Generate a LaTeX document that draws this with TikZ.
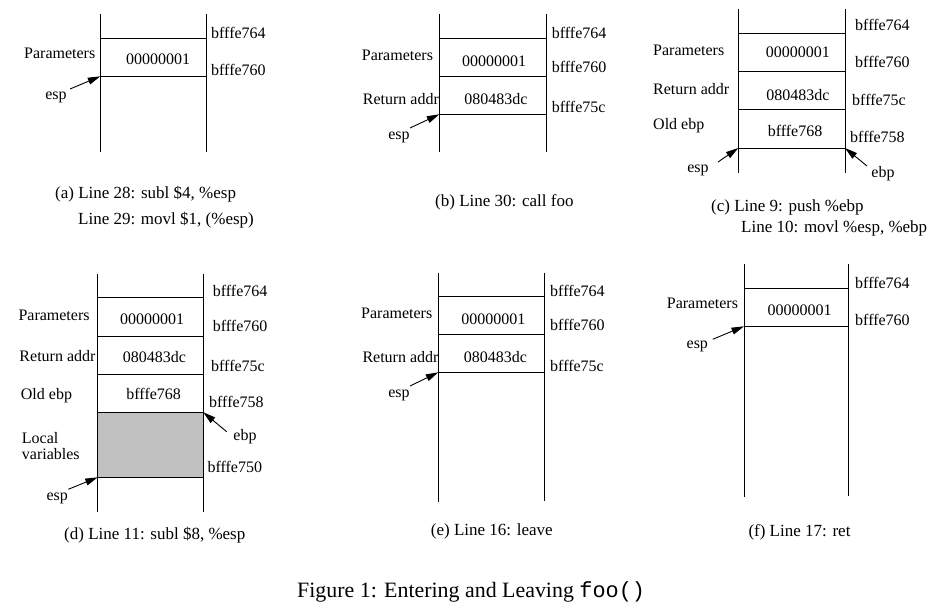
\documentclass[tikz,border=0pt]{standalone}
\usepackage{fontspec}
\setmainfont{Liberation Serif}
\setmonofont{Liberation Mono}
\usetikzlibrary{arrows.meta}
\definecolor{lvgray}{RGB}{192,192,192}
\begin{document}
\begin{tikzpicture}[x=1pt,y=-1pt,
  lbl/.style={inner sep=0pt,anchor=west,font=\fontsize{16}{16.6}\selectfont},
  val/.style={inner sep=0pt,anchor=center,font=\fontsize{16}{16.6}\selectfont},
  subcap/.style={inner sep=0pt,anchor=west,font=\fontsize{17}{20}\selectfont},
  stk/.style={line width=0.9pt},
  ptr/.style={line width=0.9pt,-{Triangle[length=12.5pt,width=7pt]}}]
\useasboundingbox[fill=white] (0,0) rectangle (941,613);

% ---------- (a) ----------
\draw[stk] (100.3,14) -- (100.3,152);
\draw[stk] (206,14) -- (206,152);
\draw[stk] (100.3,38.3) -- (206,38.3);
\draw[stk] (100.3,76.3) -- (206,76.3);
\node[lbl] (a764) at (211,33) {bfffe764};
\node[lbl] (a760) at (211,70) {bfffe760};
\node[val] (aval1) at (158,59) {00000001};
\node[lbl] (apar) at (24,53) {Parameters};
\node[val] (aesp) at (56,97) {esp};
\coordinate (aespt) at (70,89);
\coordinate (aesph) at (100.3,76.3);
\draw[ptr] (aespt) -- (aesph);
\node[subcap] (acap1) at (55,194) {(a) Line 28: subl \$4, \%esp};
\node[subcap] (acap2) at (78,220) {Line 29: movl \$1, (\%esp)};

% ---------- (b) ----------
\draw[stk] (439.3,14) -- (439.3,152);
\draw[stk] (546,14) -- (546,152);
\draw[stk] (439.3,38.3) -- (546,38.3);
\draw[stk] (439.3,76.3) -- (546,76.3);
\draw[stk] (439.3,114.3) -- (546,114.3);
\node[lbl] (b764) at (551.7,33) {bfffe764};
\node[lbl] (b760) at (551.7,67) {bfffe760};
\node[lbl] (b75c) at (551.7,107) {bfffe75c};
\node[val] (bval1) at (494,61) {00000001};
\node[val] (bval2) at (496,99) {080483dc};
\node[lbl] (bpar) at (361.7,55) {Parameters};
\node[lbl] (bret) at (362.7,99) {Return addr};
\node[val] (besp) at (399,137) {esp};
\coordinate (bespt) at (410,128);
\coordinate (besph) at (439.3,114.3);
\draw[ptr] (bespt) -- (besph);
\node[subcap] (bcap) at (435,202) {(b) Line 30: call foo};

% ---------- (c) ----------
\draw[stk] (738.3,9.3) -- (738.3,173);
\draw[stk] (845,9.3) -- (845,173);
\draw[stk] (738.3,33.3) -- (845,33.3);
\draw[stk] (738.3,71.3) -- (845,71.3);
\draw[stk] (738.3,109.7) -- (845,109.7);
\draw[stk] (738.3,148) -- (845,148);
\node[lbl] (c764) at (855,25) {bfffe764};
\node[lbl] (c760) at (855,61.7) {bfffe760};
\node[lbl] (c75c) at (852,100) {bfffe75c};
\node[lbl] (c758) at (850,136.7) {bfffe758};
\node[val] (cval1) at (797.8,52.7) {00000001};
\node[val] (cval2) at (797.8,95) {080483dc};
\node[val] (cval3) at (795,130.7) {bfffe768};
\node[lbl] (cpar) at (653,50.7) {Parameters};
\node[lbl] (cret) at (653,89) {Return addr};
\node[lbl] (cold) at (653,126) {Old ebp};
\node[val] (cesp) at (698,170) {esp};
\coordinate (cespt) at (718,162);
\coordinate (cesph) at (738.3,148);
\draw[ptr] (cespt) -- (cesph);
\node[val] (cebp) at (883,174) {ebp};
\coordinate (cebpt) at (867,166);
\coordinate (cebph) at (845,148);
\draw[ptr] (cebpt) -- (cebph);
\node[subcap] (ccap1) at (711,207) {(c) Line 9: push \%ebp};
\node[subcap] (ccap2) at (741,228) {Line 10: movl \%esp, \%ebp};

% ---------- (d) ----------
\fill[lvgray] (97.7,412.3) rectangle (203.3,477.3);
\draw[stk] (97.7,274) -- (97.7,511.7);
\draw[stk] (203.3,274) -- (203.3,511.7);
\draw[stk] (97.7,297.7) -- (203.3,297.7);
\draw[stk] (97.7,336) -- (203.3,336);
\draw[stk] (97.7,374.3) -- (203.3,374.3);
\draw[stk] (97.7,412.3) -- (203.3,412.3);
\draw[stk] (97.7,477.3) -- (203.3,477.3);
\node[lbl] (d764) at (212.7,290.7) {bfffe764};
\node[lbl] (d760) at (212.7,326) {bfffe760};
\node[lbl] (d75c) at (211,366) {bfffe75c};
\node[lbl] (d758) at (209,401.7) {bfffe758};
\node[lbl] (d750) at (207.3,466.7) {bfffe750};
\node[val] (dval1) at (152,319.3) {00000001};
\node[val] (dval2) at (154.5,357.3) {080483dc};
\node[val] (dval3) at (153.7,394.3) {bfffe768};
\node[lbl] (dpar) at (18.3,315) {Parameters};
\node[lbl] (dret) at (19.3,356) {Return addr};
\node[lbl] (dold) at (20.7,395.7) {Old ebp};
\node[lbl,align=left] (dloc) at (21.7,446) {Local\\variables};
\node[val] (desp) at (57.3,498.3) {esp};
\coordinate (despt) at (68.3,489.3);
\coordinate (desph) at (97.7,477.3);
\draw[ptr] (despt) -- (desph);
\node[val] (debp) at (245,436.7) {ebp};
\coordinate (debpt) at (226.7,431.7);
\coordinate (debph) at (203.3,412.3);
\draw[ptr] (debpt) -- (debph);
\node[subcap] (dcap) at (64,535) {(d) Line 11: subl \$8, \%esp};

% ---------- (e) ----------
\draw[stk] (438.3,272.7) -- (438.3,501.5);
\draw[stk] (544.3,272.7) -- (544.3,500.5);
\draw[stk] (438.3,296.7) -- (544.3,296.7);
\draw[stk] (438.3,334.3) -- (544.3,334.3);
\draw[stk] (438.3,372.3) -- (544.3,372.3);
\node[lbl] (e764) at (550,290.7) {bfffe764};
\node[lbl] (e760) at (550,325) {bfffe760};
\node[lbl] (e75c) at (550,366) {bfffe75c};
\node[val] (eval1) at (493.3,319.3) {00000001};
\node[val] (eval2) at (495.5,357.3) {080483dc};
\node[lbl] (epar) at (361,313.3) {Parameters};
\node[lbl] (eret) at (362.3,356.7) {Return addr};
\node[val] (eesp) at (399,395) {esp};
\coordinate (eespt) at (410,386);
\coordinate (eesph) at (438.3,372.3);
\draw[ptr] (eespt) -- (eesph);
\node[subcap] (ecap) at (430.7,531.7) {(e) Line 16: leave};

% ---------- (f) ----------
\draw[stk] (744,264) -- (744,496.5);
\draw[stk] (848.7,264) -- (848.7,495.5);
\draw[stk] (744,288.3) -- (848.7,288.3);
\draw[stk] (744,326.3) -- (848.7,326.3);
\node[lbl] (f764) at (855,282.7) {bfffe764};
\node[lbl] (f760) at (855,320) {bfffe760};
\node[val] (fval1) at (799.7,310) {00000001};
\node[lbl] (fpar) at (666.7,303.3) {Parameters};
\node[val] (fesp) at (697.3,346.7) {esp};
\coordinate (fespt) at (712.7,339.3);
\coordinate (fesph) at (744,326.3);
\draw[ptr] (fespt) -- (fesph);
\node[subcap] (fcap) at (748.3,532.7) {(f) Line 17: ret};

% ---------- figure caption ----------
\node[inner sep=0pt,anchor=west,font=\fontsize{21.9}{24}\selectfont] (figcap) at (297,591.7) {Figure 1: Entering and Leaving \texttt{foo()}};
\end{tikzpicture}
\end{document}
